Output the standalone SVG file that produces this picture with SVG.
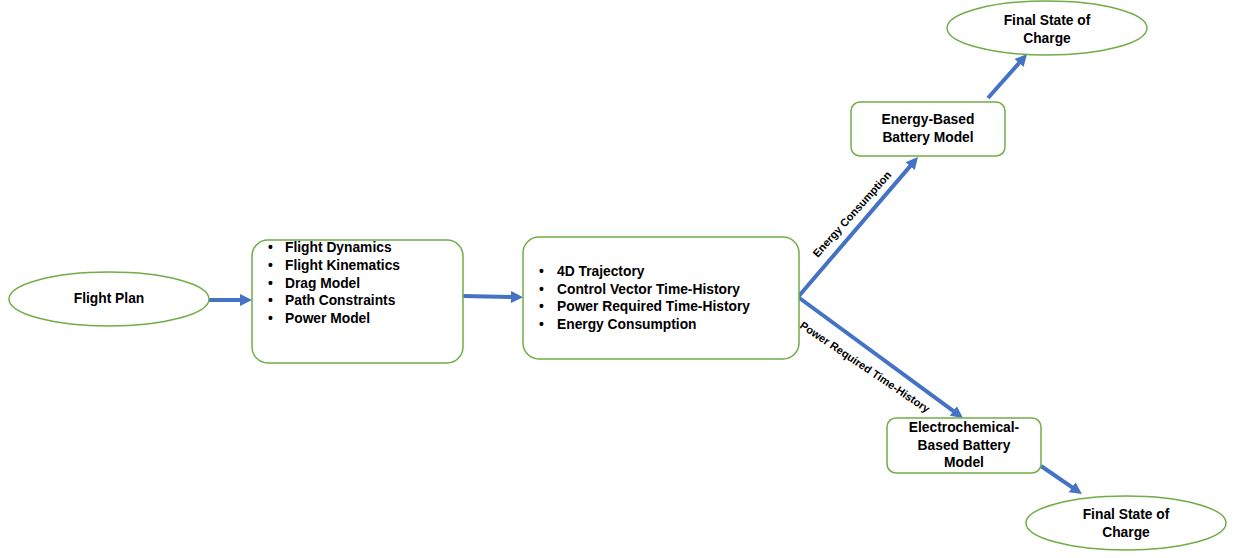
<svg xmlns="http://www.w3.org/2000/svg" width="1233" height="558" viewBox="0 0 1233 558">
<defs>
<style>
.node{fill:#fff;stroke:#70AD47;stroke-width:1.5}
.t{font-family:"Liberation Sans",Arial,sans-serif;font-weight:bold;font-size:13.8px;fill:#000}
.c{text-anchor:middle}
.lbl{font-family:"Liberation Sans",Arial,sans-serif;font-weight:bold;font-size:11px;fill:#000;text-anchor:middle}
.arr{stroke:#4472C4;stroke-width:4;fill:none;marker-end:url(#ah)}
</style>
<marker id="ah" markerUnits="userSpaceOnUse" viewBox="0 0 12 12" markerWidth="12" markerHeight="12" refX="2" refY="6" orient="auto">
<path d="M0,0 L12,6 L0,12 z" fill="#4472C4"/>
</marker>
</defs>
<rect width="1233" height="558" fill="#fff"/>
<g id="connectors">
<line class="arr" x1="209" y1="300" x2="242" y2="300"/>
<line class="arr" x1="463" y1="296" x2="513" y2="297"/>
<line class="arr" x1="798" y1="297" x2="911.5" y2="164.6"/>
<line class="arr" x1="798" y1="297" x2="954.9" y2="412.1"/>
<line class="arr" x1="988" y1="98" x2="1020.4" y2="61.5"/>
<line class="arr" x1="1041" y1="466" x2="1073.7" y2="488.4"/>
<text class="lbl" transform="translate(852,214) rotate(-48)" dy="0.35em">Energy Consumption</text>
<text class="lbl" transform="translate(865,367) rotate(34)" dy="0.35em">Power Required Time-History</text>
</g>
<g id="flight-plan">
<ellipse class="node" cx="109" cy="299" rx="100" ry="27"/>
<text class="t c" x="109" y="303">Flight Plan</text>
</g>
<g id="models">
<rect class="node" x="252" y="240" width="211" height="123" rx="16"/>
<text class="t"><tspan x="268" y="252">•</tspan><tspan x="285" y="252">Flight Dynamics</tspan></text>
<text class="t"><tspan x="268" y="270">•</tspan><tspan x="285" y="270">Flight Kinematics</tspan></text>
<text class="t"><tspan x="268" y="288">•</tspan><tspan x="285" y="288">Drag Model</tspan></text>
<text class="t"><tspan x="268" y="305">•</tspan><tspan x="285" y="305">Path Constraints</tspan></text>
<text class="t"><tspan x="268" y="323">•</tspan><tspan x="285" y="323">Power Model</tspan></text>
</g>
<g id="outputs">
<rect class="node" x="523" y="237" width="276" height="122" rx="16"/>
<text class="t"><tspan x="539" y="276">•</tspan><tspan x="557" y="276">4D Trajectory</tspan></text>
<text class="t"><tspan x="539" y="294">•</tspan><tspan x="557" y="294">Control Vector Time-History</tspan></text>
<text class="t"><tspan x="539" y="311">•</tspan><tspan x="557" y="311">Power Required Time-History</tspan></text>
<text class="t"><tspan x="539" y="329">•</tspan><tspan x="557" y="329">Energy Consumption</tspan></text>
</g>
<g id="energy-battery">
<rect class="node" x="851" y="102" width="154" height="54" rx="9"/>
<text class="t c" x="928" y="124">Energy-Based</text>
<text class="t c" x="928" y="142">Battery Model</text>
</g>
<g id="soc-top">
<ellipse class="node" cx="1047" cy="28" rx="100" ry="27"/>
<text class="t c" x="1047" y="25">Final State of</text>
<text class="t c" x="1047" y="43">Charge</text>
</g>
<g id="electro-battery">
<rect class="node" x="887" y="418" width="154" height="55" rx="9"/>
<text class="t c" x="964" y="432">Electrochemical-</text>
<text class="t c" x="964" y="450">Based Battery</text>
<text class="t c" x="964" y="467">Model</text>
</g>
<g id="soc-bottom">
<ellipse class="node" cx="1126" cy="523" rx="100" ry="27"/>
<text class="t c" x="1126" y="519">Final State of</text>
<text class="t c" x="1126" y="537">Charge</text>
</g>
</svg>
